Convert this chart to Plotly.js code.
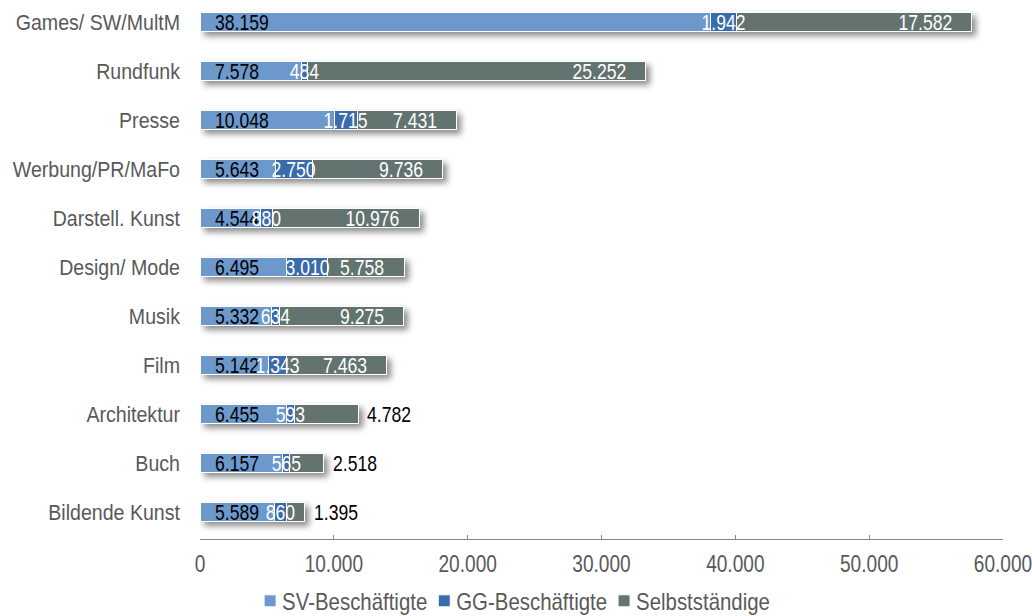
<!DOCTYPE html>
<html>
<head>
<meta charset="utf-8">
<script src="https://cdn.plot.ly/plotly-3.0.1.min.js"></script>
<style>
  html, body { margin: 0; padding: 0; background: #fff; }
  #chart { width: 1032px; height: 616px; }
  .barlayer { filter: drop-shadow(4px 4px 3px rgba(0,0,0,0.45)); }
</style>
</head>
<body>
<div id="chart"></div>
<script>
const categories = ["Games/ SW/MultM", "Rundfunk", "Presse", "Werbung/PR/MaFo", "Darstell. Kunst",
  "Design/ Mode", "Musik", "Film", "Architektur", "Buch", "Bildende Kunst"];
const svBeschaeftigte = [38159, 7578, 10048, 5643, 4544, 6495, 5332, 5142, 6455, 6157, 5589];
const ggBeschaeftigte = [1942, 484, 1715, 2750, 880, 3010, 634, 1343, 593, 565, 860];
const selbststaendige = [17582, 25252, 7431, 9736, 10976, 5758, 9275, 7463, 4782, 2518, 1395];
const seriesNames = ["SV-Beschäftigte", "GG-Beschäftigte", "Selbstständige"];
const xTicks = [0, 10000, 20000, 30000, 40000, 50000, 60000];

const colors = ["#6C98CB", "#3B6CAA", "#627370"];
const FONT = '"Liberation Sans", Arial, sans-serif';
const fmt = v => v.toString().replace(/\B(?=(\d{3})+(?!\d))/g, ".");

const allSeries = [svBeschaeftigte, ggBeschaeftigte, selbststaendige];
const traces = allSeries.map((vals, i) => ({
  type: "bar",
  orientation: "h",
  name: seriesNames[i],
  y: categories,
  x: vals,
  width: 0.38,
  marker: { color: colors[i], line: { color: "#ffffff", width: 1 } },
  hoverinfo: "x+name"
}));

const LBL = 22;
const annotations = [];
categories.forEach((c, k) => {
  const sv = svBeschaeftigte[k], gg = ggBeschaeftigte[k], se = selbststaendige[k];
  const total = sv + gg + se;
  annotations.push({ x: 0, y: c, xref: "x", yref: "y", text: fmt(sv), showarrow: false,
    xanchor: "left", xshift: 13, font: { family: FONT, size: LBL, color: "#000000" } });
  annotations.push({ x: sv + gg / 2, y: c, xref: "x", yref: "y", text: fmt(gg), showarrow: false,
    xanchor: "center", font: { family: FONT, size: LBL, color: "#ffffff" } });
  if (se >= 5000) {
    annotations.push({ x: total, y: c, xref: "x", yref: "y", text: fmt(se), showarrow: false,
      xanchor: "right", xshift: -18, font: { family: FONT, size: LBL, color: "#ffffff" } });
  } else {
    annotations.push({ x: total, y: c, xref: "x", yref: "y", text: fmt(se), showarrow: false,
      xanchor: "left", xshift: 7, font: { family: FONT, size: LBL, color: "#000000" } });
  }
});

const layout = {
  width: 1032, height: 616,
  margin: { l: 200, r: 29, t: 0, b: 77 },
  barmode: "stack",
  separators: ",.",
  paper_bgcolor: "#ffffff",
  plot_bgcolor: "#ffffff",
  showlegend: true,
  font: { family: FONT, size: 22, color: "#595959" },
  xaxis: {
    range: [0, 60000],
    tickvals: xTicks,
    ticktext: xTicks.map(fmt),
    showgrid: false,
    zeroline: false,
    showline: true,
    linecolor: "#868686",
    linewidth: 1,
    ticks: "inside",
    ticklen: 4,
    tickcolor: "#868686",
    ticklabelstandoff: 4,
    ticklabeloverflow: "allow",
    tickfont: { family: FONT, size: 23, color: "#595959" }
  },
  yaxis: {
    type: "category",
    categoryorder: "array",
    categoryarray: categories,
    range: [10.551, -0.449],
    showgrid: false,
    zeroline: false,
    showline: false,
    ticks: "",
    ticklabelstandoff: 19,
    ticklabeloverflow: "allow",
    tickfont: { family: FONT, size: 22, color: "#595959" }
  },
  legend: {
    orientation: "h",
    xref: "container", yref: "container",
    x: 0.5, xanchor: "center",
    y: 0.024, yanchor: "middle",
    font: { family: FONT, size: 24, color: "#595959" },
    itemwidth: 30,
    traceorder: "normal"
  },
  annotations: annotations
};

function condense(t, f) {
  const w = t.getComputedTextLength();
  t.setAttribute("textLength", (w * f).toFixed(2));
  t.setAttribute("lengthAdjust", "spacingAndGlyphs");
  return w;
}

const gd = document.getElementById("chart");
Plotly.newPlot(gd, traces, layout, { displayModeBar: false, staticPlot: true }).then(() => {
  // narrow look (the original uses a condensed typeface)
  gd.querySelectorAll(".ytick text").forEach(t => condense(t, 0.89));
  gd.querySelectorAll(".xtick text").forEach(t => condense(t, 0.83));
  gd.querySelectorAll("g.annotation").forEach(g => {
    const idx = +g.getAttribute("data-index");
    const t = g.querySelector("text.annotation-text");
    if (!t) return;
    const w = condense(t, 0.8);
    const x0 = parseFloat(t.getAttribute("x"));
    const anchor = layout.annotations[idx].xanchor;
    if (anchor === "left") { t.setAttribute("text-anchor", "start"); t.setAttribute("x", x0 - w / 2); }
    else if (anchor === "right") { t.setAttribute("text-anchor", "end"); t.setAttribute("x", x0 + w / 2); }
  });
  // legend: condensed text, tighter spacing, re-centred
  const items = [...gd.querySelectorAll(".legend .traces")];
  const parse = g => {
    const m = /translate\(\s*([-\d.e]+)[ ,]+([-\d.e]+)\s*\)/.exec(g.getAttribute("transform") || "");
    return m ? [+m[1], +m[2]] : [0, 0];
  };
  const f = 0.85;
  const widths = items.map(g => {
    const t = g.querySelector("text.legendtext");
    const w = condense(t, f);
    t.setAttribute("x", 32);
    return w * f;
  });
  let xs = [parse(items[0])[0]];
  for (let i = 1; i < items.length; i++) xs[i] = xs[i - 1] + widths[i - 1] + 29;
  items.forEach((g, i) => g.setAttribute("transform", `translate(${xs[i]},${parse(g)[1]})`));
  const firstSym = items[0].querySelector(".legendpoints path").getBoundingClientRect();
  const lastTxt = items[items.length - 1].querySelector("text.legendtext").getBoundingClientRect();
  const total = lastTxt.right - firstSym.left;
  const dx = (517 - total / 2) - firstSym.left;
  items.forEach((g, i) => g.setAttribute("transform", `translate(${xs[i] + dx},${parse(g)[1]})`));
});
</script>
</body>
</html>
